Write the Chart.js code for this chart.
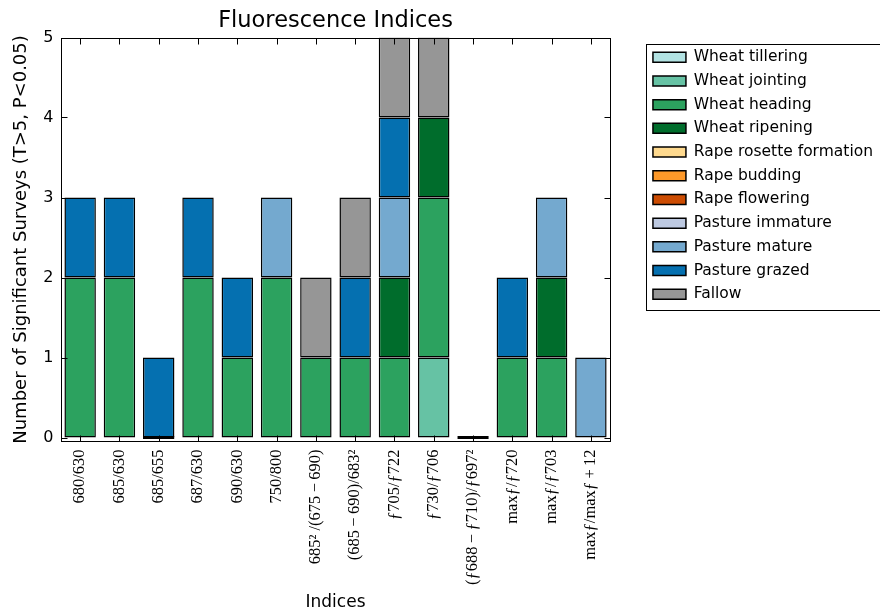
<!DOCTYPE html>
<html>
<head>
<meta charset="utf-8">
<title>Fluorescence Indices</title>
<script src="https://cdn.jsdelivr.net/npm/chart.js@4/dist/chart.umd.min.js"></script>
<style>
  html, body { margin: 0; padding: 0; background: #fff; overflow: hidden; }
  #wrap { width: 900px; height: 612px; }
</style>
</head>
<body>
<div id="wrap"><canvas id="chart" width="900" height="612"></canvas></div>
<script>
// Index labels along the x axis
const categories = [
  '680/630', '685/630', '685/655', '687/630', '690/630', '750/800',
  '685² /(675\u2009−\u2009690)', '(685\u2009−\u2009690)/683²',
  'ƒ705/ƒ722', 'ƒ730/ƒ706', '(ƒ688\u2009−\u2009ƒ710)/ƒ697²',
  'maxƒ/ƒ720', 'maxƒ/ƒ703', 'maxƒ/maxƒ\u2009+\u200912'
];

// Number of significant surveys per index, one array per crop stage
const wheatTillering   = [null, null, null, null, null, null, null, null, null, null, null, null, null, null];
const wheatJointing    = [null, null, null, null, null, null, null, null, null, 1, null, null, null, null];
const wheatHeading     = [2, 2, 0, 2, 1, 2, 1, 1, 1, 2, 0, 1, 1, null];
const wheatRipening    = [null, null, null, null, null, null, null, null, 1, 1, null, null, 1, null];
const rapeRosette      = [null, null, null, null, null, null, null, null, null, null, null, null, null, null];
const rapeBudding      = [null, null, null, null, null, null, null, null, null, null, null, null, null, null];
const rapeFlowering    = [null, null, null, null, null, null, null, null, null, null, null, null, null, null];
const pastureImmature  = [null, null, null, null, null, null, null, null, null, null, null, null, null, null];
const pastureMature    = [null, null, null, null, null, 1, null, null, 1, null, null, null, 1, 1];
const pastureGrazed    = [1, 1, 1, 1, 1, null, null, 1, 1, null, null, 1, null, null];
const fallow           = [null, null, null, null, null, null, 1, 1, 1, 1, null, null, null, null];

const yTicks = [0, 1, 2, 3, 4, 5];

const seriesNames = [
  'Wheat tillering', 'Wheat jointing', 'Wheat heading', 'Wheat ripening',
  'Rape rosette formation', 'Rape budding', 'Rape flowering',
  'Pasture immature', 'Pasture mature', 'Pasture grazed', 'Fallow'
];
const seriesData = [
  wheatTillering, wheatJointing, wheatHeading, wheatRipening,
  rapeRosette, rapeBudding, rapeFlowering,
  pastureImmature, pastureMature, pastureGrazed, fallow
];
const seriesColors = [
  '#b2e2e2', '#66c2a4', '#2ca25f', '#006d2c',
  '#fed98e', '#fe9929', '#cc4c02',
  '#bdc9e1', '#74a9cf', '#0570b0', '#969696'
];

const datasets = seriesNames.map((name, i) => ({
  label: name,
  data: seriesData[i],
  // a zero count shows as a flat black bar on the baseline
  backgroundColor: (ctx) => (ctx.raw === 0 ? '#000' : seriesColors[i]),
  borderColor: '#000',
  borderWidth: 1.5,
  borderSkipped: false,
  minBarLength: 3,
  barPercentage: 0.8,
  categoryPercentage: 1.0,
  stack: 'surveys'
}));

// Box with inward tick marks on all four sides, plus the legend frame
const frameTicks = {
  id: 'frameTicks',
  afterDatasetsDraw(chart) {
    const { ctx, chartArea: a, scales: { x, y } } = chart;
    const L = Math.round(a.left) + 0.5, R = Math.round(a.right) - 0.5;
    const T = Math.round(a.top) + 0.5, B = Math.round(a.bottom) - 0.5;
    ctx.save();
    ctx.strokeStyle = '#000';
    ctx.lineWidth = 1;
    ctx.beginPath();
    x.ticks.forEach((t, i) => {
      const px = Math.round(x.getPixelForTick(i)) + 0.5;
      ctx.moveTo(px, B); ctx.lineTo(px, B - 6);
      ctx.moveTo(px, T); ctx.lineTo(px, T + 6);
    });
    y.ticks.forEach((t) => {
      const py = Math.round(y.getPixelForValue(t.value)) + 0.5;
      ctx.moveTo(L, py); ctx.lineTo(L + 6, py);
      ctx.moveTo(R, py); ctx.lineTo(R - 6, py);
    });
    ctx.stroke();
    ctx.strokeRect(L, T, R - L, B - T);
    ctx.restore();
  },
  afterDraw(chart) {
    const hb = chart.legend && chart.legend.legendHitBoxes;
    if (!hb || !hb.length) return;
    const { ctx } = chart;
    const first = hb[0], last = hb[hb.length - 1];
    const left = Math.round(first.left - 7) + 0.5;
    const top = Math.round(first.top - 6) + 0.5;
    const bottom = Math.round(last.top + last.height + 8) + 0.5;
    ctx.save();
    ctx.strokeStyle = '#000';
    ctx.lineWidth = 1;
    ctx.strokeRect(left, top, 400, bottom - top);
    ctx.restore();
  }
};

Chart.defaults.color = '#000';
Chart.defaults.font.family = "'DejaVu Sans', sans-serif";

new Chart(document.getElementById('chart'), {
  type: 'bar',
  data: { labels: categories, datasets },
  plugins: [frameTicks],
  options: {
    responsive: false,
    animation: false,
    layout: { padding: { left: 0, right: 17, top: 0, bottom: 0 } },
    plugins: {
      tooltip: { enabled: false },
      title: {
        display: true,
        text: 'Fluorescence Indices',
        fullSize: false,
        color: '#000',
        font: { size: 22.5, weight: 'normal', lineHeight: 1.2 },
        padding: { top: 7.5, bottom: 3 }
      },
      legend: {
        position: 'right',
        align: 'start',
        fullSize: false,
        maxWidth: 400,
        title: { display: true, text: '', padding: { top: 1.9, bottom: 1.9 }, font: { size: 0, lineHeight: 1 } },
        labels: {
          color: '#000',
          font: { size: 15.5 },
          boxWidth: 33,
          boxHeight: 10,
          padding: 8.2
        }
      }
    },
    scales: {
      x: {
        type: 'category',
        offset: true,
        grid: { display: false, drawTicks: false },
        border: { display: false },
        ticks: {
          autoSkip: false,
          maxRotation: 90,
          minRotation: 90,
          padding: 8,
          color: '#000',
          font: { family: "'Liberation Serif', serif", size: 16.5 }
        },
        title: {
          display: true,
          text: 'Indices',
          color: '#000',
          font: { size: 17, lineHeight: 1.05 },
          padding: { top: 0, bottom: 0 }
        },
        afterFit: (s) => { s.height = 170.5; }
      },
      y: {
        type: 'linear',
        stacked: true,
        min: -0.05,
        max: 5,
        afterBuildTicks: (axis) => { axis.ticks = yTicks.map((v) => ({ value: v })); },
        grid: { display: false, drawTicks: false },
        border: { display: false },
        ticks: { padding: 7, color: '#000', font: { size: 16 } },
        title: {
          display: true,
          text: 'Number of Significant Surveys (T>5, P<0.05)',
          color: '#000',
          font: { size: 18, lineHeight: 1.2 },
          padding: { top: 11, bottom: 0 }
        },
        afterFit: (s) => { s.width = 60.5; }
      },
      yRight: {
        type: 'linear',
        position: 'right',
        grid: { display: false, drawTicks: false },
        border: { display: false },
        ticks: { display: false },
        afterFit: (s) => { s.width = 34.2; }
      }
    }
  }
});
</script>
</body>
</html>
